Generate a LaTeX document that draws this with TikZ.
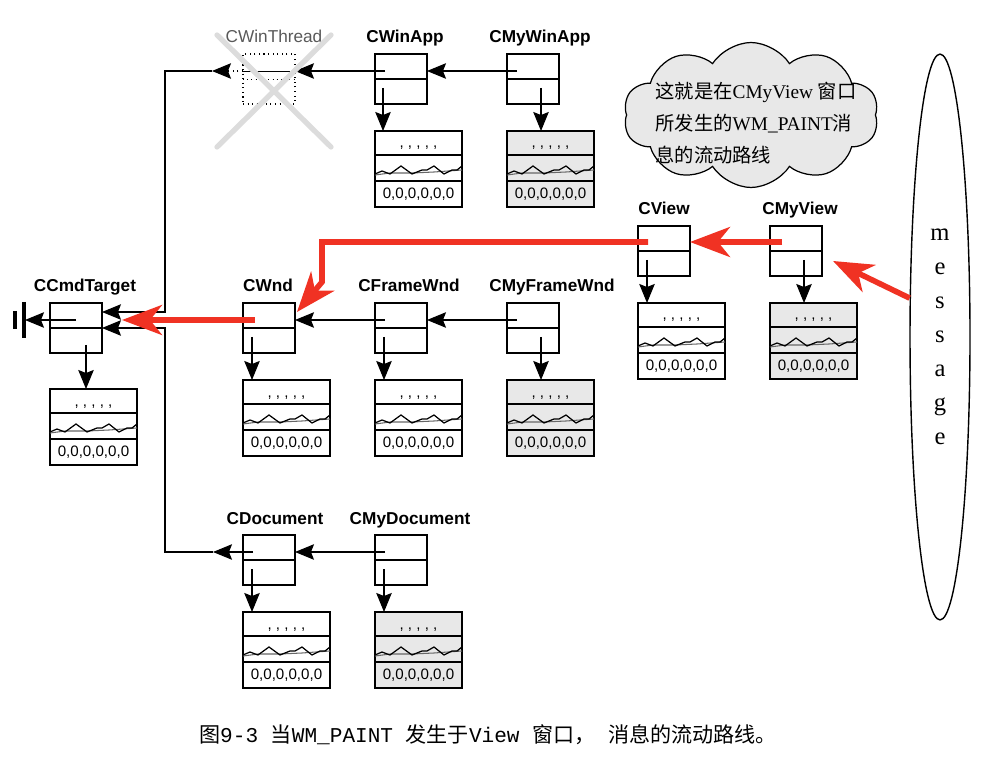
\documentclass[tikz,border=0pt]{standalone}
\usepackage{fontspec}
\setmainfont{Liberation Serif}
\setsansfont{Liberation Sans}
\setmonofont{Liberation Mono}
\newfontfamily\cjk{Noto Sans CJK SC}
\usetikzlibrary{arrows.meta,calc,shapes.geometric,shapes.symbols}
\definecolor{ink}{RGB}{0,0,0}
\definecolor{flow}{RGB}{240,50,35}
\definecolor{shade}{RGB}{232,232,232}
\definecolor{xgray}{RGB}{220,220,220}
\tikzset{
  clsbox/.style={draw=ink,line width=0.6pt,fill=white,anchor=north west,inner sep=0pt,
    outer sep=0pt,minimum width=10.4mm,minimum height=10mm},
  mapbox/.style={draw=ink,line width=0.6pt,anchor=north west,inner sep=0pt,outer sep=0pt,
    minimum width=17.4mm,minimum height=15.2mm},
  divider/.style={line width=1.1pt},
  clslabel/.style={anchor=base,inner sep=0pt,font=\sffamily\bfseries\fontsize{9.8}{11}\selectfont},
  maptext/.style={inner sep=0pt,font=\sffamily\fontsize{8.6}{10}\selectfont},
  inh/.style={-{Stealth[length=3.8mm,width=3.1mm,inset=0.6mm]},line width=0.6pt},
  redarr/.style={-{Stealth[length=8mm,width=6mm,inset=2.4mm]},draw=flow,line width=3.2pt},
}
% class box: name, x, y, label, label x
\newcommand{\clsbox}[5]{%
  \node[clsbox] (#1) at (#2,#3) {};
  \draw[divider] (#1.west) -- (#1.east);
  \node[clslabel] (#1-lbl) at (#5,#3-11) {#4};
}
% message map: name, x, y, fill
\newcommand{\msgmap}[4]{%
  \node[mapbox,fill=#4] (#1-map) at (#2,#3) {};
  \begin{scope}[shift={(#1-map.north west)}]
    \draw[black!60,line width=0.6pt] (0,44) -- (15,42) -- (37,42) -- (59,41) -- (87,39);
    \draw[line width=0.7pt] (0,43) -- (7,40) -- (15,43) -- (26,35) -- (37,43) -- (47,39)
      -- (52,39) -- (59,35) -- (69,43) -- (77,39) -- (82,39) -- (87,35);
    \draw[divider] (0,24) -- (87,24);
    \draw[divider] (0,50) -- (87,50);
  \end{scope}
  \node[maptext,anchor=base] (#1-dots) at ($(#1-map.north)+(0,17)$) {, , , , ,};
  \node[maptext] (#1-zero) at ($(#1-map.north)+(0,63)$) {0,0,0,0,0,0};
}

\begin{document}
\begin{tikzpicture}[x=0.02cm,y=-0.02cm]
  \useasboundingbox (0,0) rectangle (1006,776);

  % crossed-out CWinThread
  \node[clsbox,dotted,fill=none] (thread) at (243,54) {};
  \draw[dotted] (thread.west) -- (thread.east);
  \node[clslabel,font=\sffamily\fontsize{9.8}{11}\selectfont,text=black!65] (thread-lbl)
    at (274,43) {CWinThread};

  % classes
  \clsbox{cmd}{50}{303}{CCmdTarget}{85}
  \clsbox{wnd}{243}{303}{CWnd}{268}
  \clsbox{frame}{375}{303}{CFrameWnd}{409}
  \clsbox{myframe}{507}{303}{CMyFrameWnd}{552}
  \clsbox{winapp}{375}{54}{CWinApp}{405}
  \clsbox{mywinapp}{507}{54}{CMyWinApp}{540}
  \clsbox{view}{638}{226}{CView}{664}
  \clsbox{myview}{770}{226}{CMyView}{800}
  \clsbox{doc}{243}{535}{CDocument}{275}
  \clsbox{mydoc}{375}{535}{CMyDocument}{410}

  % message maps
  \msgmap{cmd}{50}{389}{white}
  \msgmap{wnd}{243}{380}{white}
  \msgmap{frame}{375}{380}{white}
  \msgmap{myframe}{507}{380}{shade}
  \msgmap{winapp}{375}{131}{white}
  \msgmap{mywinapp}{507}{131}{shade}
  \msgmap{view}{638}{303}{white}
  \msgmap{myview}{770}{303}{shade}
  \msgmap{doc}{243}{612}{white}
  \msgmap{mydoc}{375}{612}{shade}

  % class -> message map
  \foreach \n/\dx/\sy in {cmd/36/42,wnd/9/34,frame/9/34,myframe/34/34,winapp/8/34,
      mywinapp/34/34,view/9/34,myview/34/34,doc/9/34,mydoc/9/34}
    \draw[inh] ($(\n.north west)+(\dx,\sy)$) -- ($(\n-map.north west)+(\dx,0)$);

  % derived -> base
  \foreach \a/\b in {winapp/thread,mywinapp/winapp,frame/wnd,myframe/frame,mydoc/doc}
    \draw[inh] ($(\a.north west)+(10,17)$) -- ($(\b.north east)+(0,17)$);

  % trunk to CCmdTarget
  \coordinate (thr-tip) at (212,71);
  \coordinate (doc-tip) at (213,552);
  \coordinate (trunk-top) at (165,71);
  \coordinate (trunk-bot) at (165,552);
  \draw ($(thread.north west)+(0,17)$) -- ($(thread.north east)+(-5,17)$);
  \draw[inh,dotted] ($(thread.north west)+(0,17)$) -- (thr-tip);
  \draw[inh] (thr-tip) -- (trunk-top) |- ($(cmd.north east)+(0,9)$);
  \draw[inh] ($(doc.north west)+(10,17)$) -- (doc-tip);
  \draw[inh] (doc-tip) -- (trunk-bot) |- ($(cmd.north east)+(0,25)$);

  % ground
  \coordinate (gnd) at (25,320);
  \draw[inh] ($(cmd.north west)+(26,17)$) -- (gnd);
  \draw[line width=1.8pt] ($(gnd)+(-1,-18)$) -- ($(gnd)+(-1,18)$);
  \draw[line width=1.8pt] ($(gnd)+(-10,-9)$) -- ($(gnd)+(-10,9)$);

  \draw[xgray,line width=3pt,line cap=round] (217,35) -- (331,147) (331,35) -- (217,147);

  % cloud note
  \node[cloud,draw=ink,fill=shade,line width=0.7pt,cloud puffs=10,cloud puff arc=115,
    aspect=1.8,minimum width=51mm,minimum height=29mm,inner sep=0pt] (note) at (751,115) {};
  \node[anchor=west,align=left,inner sep=0pt,font=\fontsize{11}{18}\selectfont] (note-txt)
    at (655,123) {{\cjk 这就是在}CMyView {\cjk 窗口}\\
      {\cjk 所发生的}WM\_PAINT{\cjk 消}\\
      {\cjk 息的流动路线}};

  % message
  \node[ellipse,draw=ink,line width=0.8pt,minimum width=12mm,minimum height=113.2mm,
    inner sep=0pt,align=center,font=\fontsize{14}{19.3}\selectfont] (msg) at (940,337)
    {m\\e\\s\\s\\a\\g\\e};

  % WM_PAINT flow
  \coordinate (red-bend) at (322,282);
  \draw[redarr] (msg.128) -- ($(myview.south east)+(11,-15)$);
  \draw[redarr] ($(myview.north west)+(12,16)$) -- ($(view.north east)+(0,16)$);
  \draw[redarr] ($(view.north west)+(10,16)$) -| (red-bend) -- ($(wnd.north east)+(2,9)$);
  \draw[redarr] ($(wnd.north west)+(12,17)$) -- ($(cmd.north east)+(20,17)$);

  \node[font=\fontsize{12}{14}\selectfont] (caption) at (488,735)
    {{\cjk 图}\texttt{9-3 }{\cjk 当}\texttt{WM\_PAINT }{\cjk 发生于}\texttt{View }{\cjk 窗口，}%
     \texttt{ }{\cjk 消息的流动路线。}};
\end{tikzpicture}
\end{document}
